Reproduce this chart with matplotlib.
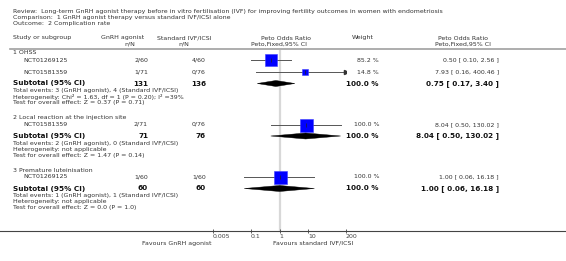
import numpy as np
import matplotlib.pyplot as plt
from matplotlib.patches import Polygon
from matplotlib.ticker import NullLocator

# ---- data ----
title_lines = [
    "Review:  Long-term GnRH agonist therapy before in vitro fertilisation (IVF) for improving fertility outcomes in women with endometriosis",
    "Comparison:  1 GnRH agonist therapy versus standard IVF/ICSI alone",
    "Outcome:  2 Complication rate",
]
groups = ["1 OHSS", "2 Local reaction at the injection site", "3 Premature luteinisation"]
study_names = [["NCT01269125", "NCT01581359"], ["NCT01581359"], ["NCT01269125"]]
gnrh_nN = [["2/60", "1/71"], ["2/71"], ["1/60"]]
std_nN = [["4/60", "0/76"], ["0/76"], ["1/60"]]
weights = [[85.2, 14.8], [100.0], [100.0]]
study_or = [[0.50, 7.93], [8.04], [1.00]]
study_lo = [[0.10, 0.16], [0.50], [0.06]]
study_hi = [[2.56, 400.46], [130.02], [16.18]]

sub_gnrh_total = [131, 71, 60]
sub_std_total = [136, 76, 60]
sub_or = [0.75, 8.04, 1.00]
sub_lo = [0.17, 0.50, 0.06]
sub_hi = [3.40, 130.02, 16.18]
total_events = [
    "Total events: 3 (GnRH agonist), 4 (Standard IVF/ICSI)",
    "Total events: 2 (GnRH agonist), 0 (Standard IVF/ICSI)",
    "Total events: 1 (GnRH agonist), 1 (Standard IVF/ICSI)",
]
heterogeneity = [
    "Heterogeneity: Chi\u00b2 = 1.63, df = 1 (P = 0.20); I\u00b2 =39%",
    "Heterogeneity: not applicable",
    "Heterogeneity: not applicable",
]
overall_test = [
    "Test for overall effect: Z = 0.37 (P = 0.71)",
    "Test for overall effect: Z = 1.47 (P = 0.14)",
    "Test for overall effect: Z = 0.0 (P = 1.0)",
]
tick_vals = [0.005, 0.1, 1, 10, 200]
tick_labels = ["0.005", "0.1", "1", "10", "200"]

# ---- layout ----
W, H = 566, 261
FS = 4.5
FSB = 5.2
TXT = "#333333"

fig = plt.figure(figsize=(W / 100, H / 100), dpi=100)
bg = fig.add_axes([0, 0, 1, 1])
bg.set_xlim(0, W)
bg.set_ylim(H, 0)
bg.axis("off")

x_lo_px, x_hi_px = 213, 346
y_top, y_axis = 50, 231
ax = fig.add_axes([x_lo_px / W, (H - y_axis) / H, (x_hi_px - x_lo_px) / W, (y_axis - y_top) / H])
ax.set_xscale("log")
ax.set_xlim(tick_vals[0], tick_vals[-1])
ax.set_ylim(y_axis, y_top)
ax.patch.set_alpha(0)
for s in ax.spines.values():
    s.set_visible(False)
ax.set_yticks([])
ax.set_xticks(tick_vals)
ax.set_xticklabels(tick_labels)
ax.xaxis.set_minor_locator(NullLocator())
ax.tick_params(axis="x", direction="inout", length=3, width=0.6, colors="#444444",
               labelsize=FS, pad=1)
for lbl in ax.get_xticklabels():
    lbl.set_ha("left")
ax.axvline(1, color="#d8d8d8", lw=1.6, zorder=0)

def t(x, y, s, ha="left", bold=False, color=TXT):
    bg.text(x, y, s, ha=ha, va="center", fontsize=FSB if bold else FS,
            fontweight="bold" if bold else "normal", color="#111111" if bold else color)

# titles
for i, line in enumerate(title_lines):
    t(13, 12 + 6 * i, line)

# column headers
t(13, 38, "Study or subgroup")
t(123, 38, "GnRH agonist", ha="center")
t(130, 44, "n/N", ha="center")
t(184, 38, "Standard IVF/ICSI", ha="center")
t(184, 44, "n/N", ha="center")
t(286, 38, "Peto Odds Ratio", ha="center")
t(279, 44, "Peto,Fixed,95% CI", ha="center")
t(363, 38, "Weight", ha="center")
t(463, 38, "Peto Odds Ratio", ha="center")
t(463, 44, "Peto,Fixed,95% CI", ha="center")
bg.plot([10, W], [49, 49], color="#a0a0a0", lw=1.2)

# rows
xmin, xmax = tick_vals[0], tick_vals[-1]
y = 53
for g in range(len(groups)):
    t(13, y, groups[g])
    y += 7
    for k in range(len(study_names[g])):
        t(23, y, study_names[g][k])
        t(148, y, gnrh_nN[g][k], ha="right")
        t(206, y, std_nN[g][k], ha="right")
        t(379, y, f"{weights[g][k]:.1f} %", ha="right")
        t(499, y, f"{study_or[g][k]:.2f} [ {study_lo[g][k]:.2f}, {study_hi[g][k]:.2f} ]", ha="right")
        lo = max(study_lo[g][k], xmin)
        hi = min(study_hi[g][k], xmax)
        ax.plot([lo, hi], [y, y], color="#555555", lw=0.7, zorder=2)
        if study_hi[g][k] > xmax:
            ax.plot(xmax, y, marker=">", ms=3, color="#333333", zorder=3)
        if study_lo[g][k] < xmin:
            ax.plot(xmin, y, marker="<", ms=3, color="#333333", zorder=3)
        ms = np.sqrt(weights[g][k]) * 1.3 * 0.72
        ax.plot(study_or[g][k], y, marker="s", ms=ms, mfc="#0000ff", mec="#4040ff",
                mew=0.4, zorder=3)
        ax.plot(study_or[g][k], y, marker="|", ms=2.5, color="#222222", mew=0.5, zorder=4)
        if k < len(study_names[g]) - 1:
            y += 12
    y += 11.5
    t(13, y, "Subtotal (95% CI)", bold=True)
    t(148, y, str(sub_gnrh_total[g]), ha="right", bold=True)
    t(206, y, str(sub_std_total[g]), ha="right", bold=True)
    t(379, y, "100.0 %", ha="right", bold=True)
    t(499, y, f"{sub_or[g]:.2f} [ {sub_lo[g]:.2f}, {sub_hi[g]:.2f} ]", ha="right", bold=True)
    ax.add_patch(Polygon([(sub_lo[g], y), (sub_or[g], y - 3), (sub_hi[g], y), (sub_or[g], y + 3)],
                         closed=True, fc="black", ec="black", lw=0.3, zorder=3))
    y += 7
    t(13, y, total_events[g])
    y += 6
    t(13, y, heterogeneity[g])
    y += 6
    t(13, y, overall_test[g])
    y += 15

# bottom axis line and labels
bg.plot([0, W], [y_axis, y_axis], color="#444444", lw=0.8)
t(212, 243, "Favours GnRH agonist", ha="right")
t(273, 243, "Favours standard IVF/ICSI")

fig.savefig("out.png", dpi=100)
